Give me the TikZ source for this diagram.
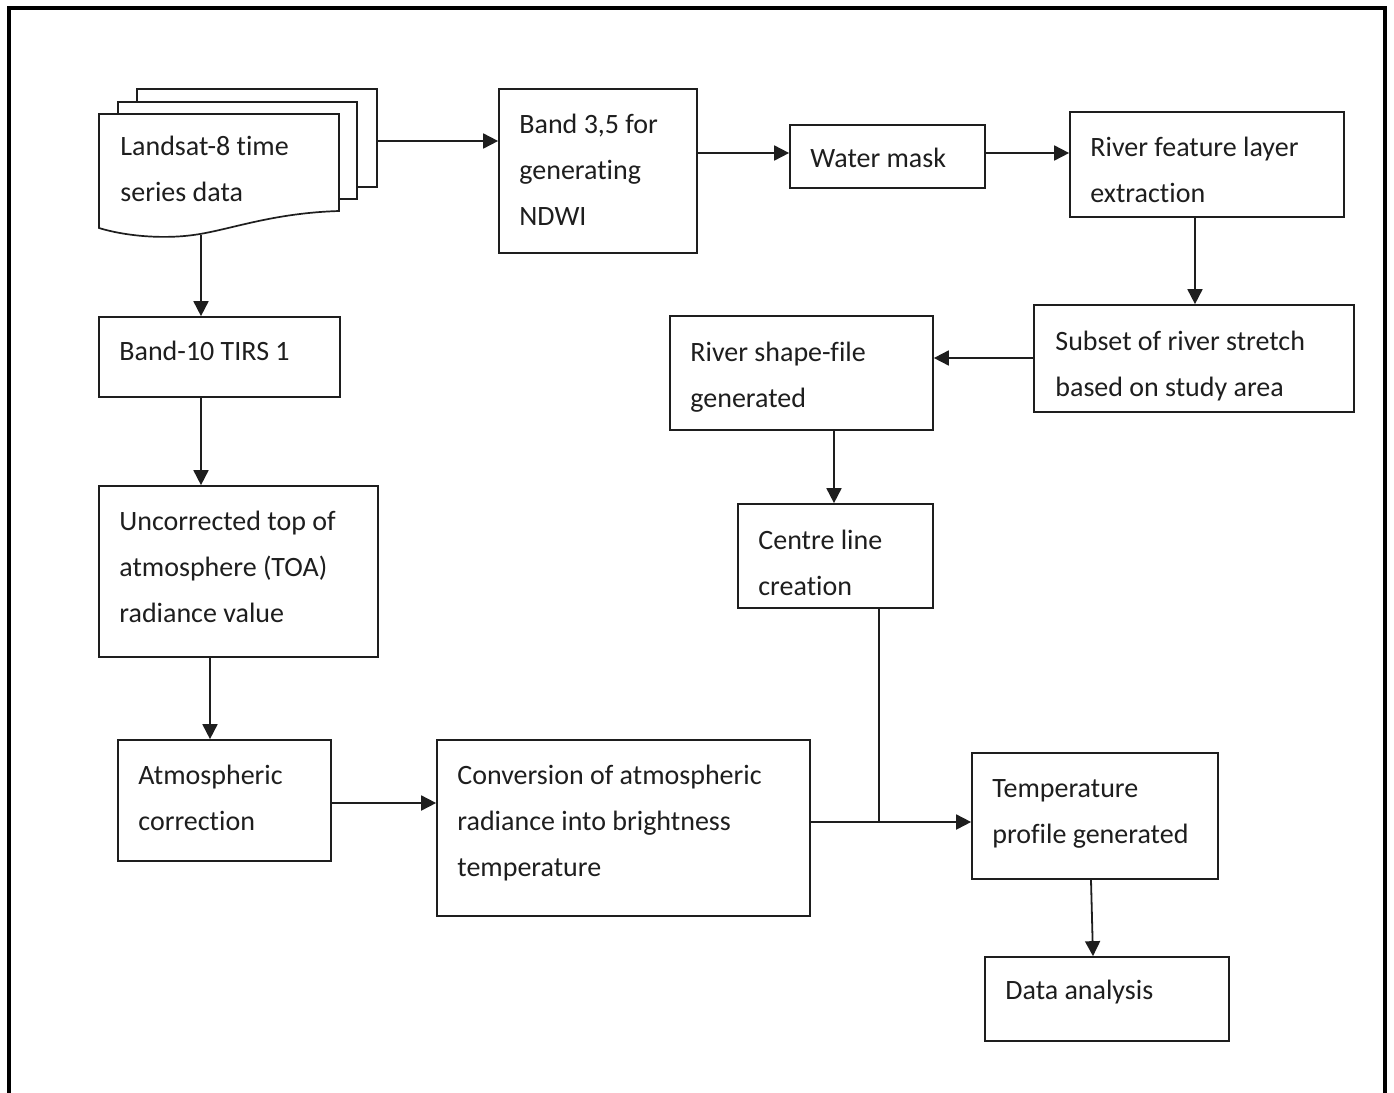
\documentclass[tikz,border=0pt]{standalone}
\usepackage{fontspec}
\setmainfont{Carlito}[Ligatures=NoCommon]
\usetikzlibrary{arrows.meta,fit}
\definecolor{ink}{RGB}{30,30,30}
\newcommand\txtlines[1]{\vtop{\baselineskip=23pt\relax #1}}
\tikzset{
  box/.style={draw=ink, line width=0.85pt, inner sep=0pt, fill=white},
  lbl/.style={anchor=base west, inner sep=0pt, text=ink, font=\fontsize{14}{23}\selectfont},
  arr/.style={draw=ink, line width=0.9pt, -{Triangle[length=7.5pt,width=7.5pt]}},
  ln/.style={draw=ink, line width=0.9pt},
  doc/.style={draw=ink, line width=0.85pt, fill=white}
}
\begin{document}
\begin{tikzpicture}[x=0.5pt,y=-0.5pt]
\useasboundingbox (0,0) rectangle (1394,1093);
\begin{scope}
\clip (0,0) rectangle (1394,1093);
\draw[line width=2pt, black] (9,1110) -- (9,7.5) -- (1385,7.5) -- (1385,1110);
\end{scope}

% document stack
\draw[doc] (137,89) rectangle (377,187);
\draw[doc] (118,102) rectangle (357,199);
\draw[doc] (99,228) -- (99,114) -- (339,114) -- (339,211)
  .. controls (275,213) and (235,228) .. (200,234)
  .. controls (165,240) and (125,236) .. (99,228) -- cycle;
\node[lbl] (landsat) at (120,155) {\txtlines{\hbox{Landsat-8 time}\hbox{series data}}};
\coordinate (docR) at (377,141);
\coordinate (docB) at (201,235);

% boxes
\node[box, fit={(499,89) (697,253)}] (band35) {};
\node[lbl] (t-band35) at (519,133) {\txtlines{\hbox{Band 3,5 for}\hbox{generating}\hbox{NDWI}}};
\node[box, fit={(790,125) (985,188)}] (water) {};
\node[lbl] (t-water) at (810,167) {\txtlines{\hbox{Water mask}}};
\node[box, fit={(1070,112) (1344,217)}] (rfeat) {};
\node[lbl] (t-rfeat) at (1090,156) {\txtlines{\hbox{River feature layer}\hbox{extraction}}};
\node[box, fit={(1034,305) (1354,412)}] (subset) {};
\node[lbl] (t-subset) at (1055,350) {\txtlines{\hbox{Subset of river stretch}\hbox{based on study area}}};
\node[box, fit={(670,316) (933,430)}] (shape) {};
\node[lbl] (t-shape) at (690,361) {\txtlines{\hbox{River shape-file}\hbox{generated}}};
\node[box, fit={(738,504) (933,608)}] (centre) {};
\node[lbl] (t-centre) at (758,549) {\txtlines{\hbox{Centre line}\hbox{creation}}};
\node[box, fit={(972,753) (1218,879)}] (temp) {};
\node[lbl] (t-temp) at (992,797) {\txtlines{\hbox{Temperature}\hbox{profile generated}}};
\node[box, fit={(985,957) (1229,1041)}] (data) {};
\node[lbl] (t-data) at (1005,999) {\txtlines{\hbox{Data analysis}}};
\node[box, fit={(99,317) (340,397)}] (band10) {};
\node[lbl] (t-band10) at (119,360) {\txtlines{\hbox{Band-10 TIRS 1}}};
\node[box, fit={(99,486) (378,657)}] (uncorr) {};
\node[lbl] (t-uncorr) at (119,530) {\txtlines{\hbox{Uncorrected top of}\hbox{atmosphere (TOA)}\hbox{radiance value}}};
\node[box, fit={(118,740) (331,861)}] (atm) {};
\node[lbl] (t-atm) at (138,784) {\txtlines{\hbox{Atmospheric}\hbox{correction}}};
\node[box, fit={(437,740) (810,916)}] (conv) {};
\node[lbl] (t-conv) at (457,784) {\txtlines{\hbox{Conversion of atmospheric}\hbox{radiance into brightness}\hbox{temperature}}};

% connectors
\draw[arr] (docR) -- (docR -| band35.west);
\draw[arr] (band35.east |- 0,153) -- (water.west |- 0,153);
\draw[arr] (water.east |- 0,153) -- (rfeat.west |- 0,153);
\draw[arr] (rfeat.south -| 1195,0) -- (subset.north -| 1195,0);
\draw[arr] (subset.west |- 0,358) -- (shape.east |- 0,358);
\draw[arr] (shape.south -| 834,0) -- (centre.north -| 834,0);
\coordinate (junc) at (879,822);
\draw[ln] (centre.south -| junc) -- (junc);
\draw[arr] (conv.east |- junc) -- (temp.west |- junc);
\draw[arr] (temp.south -| 1091,0) -- (data.north -| 1093,0);
\draw[arr] (docB) -- (band10.north -| docB);
\draw[arr] (band10.south -| 201,0) -- (uncorr.north -| 201,0);
\draw[arr] (uncorr.south -| 210,0) -- (atm.north -| 210,0);
\draw[arr] (atm.east |- 0,803) -- (conv.west |- 0,803);
\end{tikzpicture}
\end{document}
